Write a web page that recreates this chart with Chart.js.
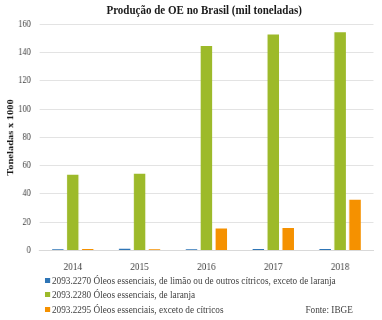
<!DOCTYPE html>
<html>
<head>
<meta charset="utf-8">
<script src="https://cdn.jsdelivr.net/npm/chart.js@4"></script>
<style>
  html, body { margin: 0; padding: 0; background: #fff; overflow: hidden; }
  /* the reference looks squeezed sideways, so draw wider and scale down */
  #wrap { position: relative; width: 434px; height: 320px; transform: scaleX(0.88); transform-origin: 0 0; }
  #title { position: absolute; left: 30px; width: 404px; top: 2.5px; text-align: center; font-family: "Liberation Serif", serif; font-weight: bold; font-size: 12.5px; line-height: 15px; color: #1a1a1a; }
  #legend { position: absolute; left: 51px; top: 273.5px; font-family: "Liberation Serif", serif; font-size: 10.5px; color: #404040; }
  .item { height: 14.5px; line-height: 14.5px; white-space: nowrap; }
  .box { display: inline-block; width: 6px; height: 5px; margin-right: 2px; vertical-align: 1px; }
  #fonte { position: absolute; right: 33px; top: 302.5px; font-family: "Liberation Serif", serif; font-size: 10.5px; color: #404040; line-height: 14.5px; }
</style>
</head>
<body>
<div id="wrap">
  <canvas id="chart" width="434" height="320"></canvas>
  <div id="title">Produção de OE no Brasil (mil toneladas)</div>
  <div id="legend"></div>
  <div id="fonte">Fonte: IBGE</div>
</div>
<script>
const years = ['2014', '2015', '2016', '2017', '2018'];
const seriesNames = [
  '2093.2270 Óleos essenciais, de limão ou de outros cítricos, exceto de laranja',
  '2093.2280 Óleos essenciais, de laranja',
  '2093.2295 Óleos essenciais, exceto de cítricos'
];
const limao = [0.9, 1.1, 0.9, 1.0, 1.0];
const laranja = [53.5, 54.3, 144.8, 152.9, 154.5];
const outros = [1.0, 0.8, 15.5, 15.9, 35.8];
const colors = ['#2E75B6', '#9DBA2A', '#F59100'];

const serif = '"Liberation Serif", "Times New Roman", serif';
const data = [limao, laranja, outros];

new Chart(document.getElementById('chart'), {
  type: 'bar',
  data: {
    labels: years,
    datasets: data.map((d, i) => ({
      label: seriesNames[i],
      data: d,
      backgroundColor: colors[i],
      borderWidth: 0,
      categoryPercentage: 0.67,
      barPercentage: 0.77
    }))
  },
  options: {
    responsive: false,
    animation: false,
    layout: { padding: { left: 6, right: 9.6, top: 24.5, bottom: 43 } },
    plugins: {
      legend: { display: false },
      tooltip: { enabled: false }
    },
    scales: {
      x: {
        grid: { display: false },
        border: { color: '#d9d9d9' },
        ticks: { color: '#404040', font: { family: serif, size: 10.5 }, padding: 3 }
      },
      y: {
        min: 0,
        max: 160,
        afterFit: s => { s.width = 38.7; },
        ticks: { stepSize: 20, color: '#404040', font: { family: serif, size: 9.5 }, padding: 9.7 },
        grid: { color: '#e3e3e3', drawTicks: false },
        border: { display: false },
        title: {
          display: true,
          text: 'Toneladas x 1000',
          color: '#1a1a1a',
          font: { family: serif, size: 10.5, weight: 'bold' },
          padding: { top: 0, bottom: 3 }
        }
      }
    }
  }
});

const legend = document.getElementById('legend');
seriesNames.forEach((name, i) => {
  const div = document.createElement('div');
  div.className = 'item';
  div.innerHTML = `<span class="box" style="background:${colors[i]}"></span>${name}`;
  legend.appendChild(div);
});
</script>
</body>
</html>
